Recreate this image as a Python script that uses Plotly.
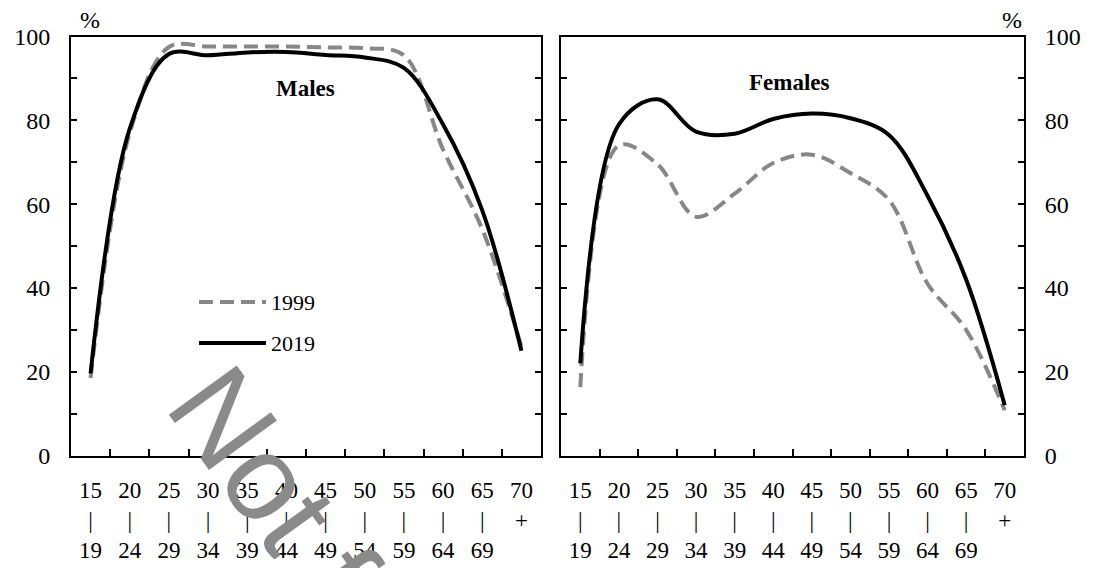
import plotly.graph_objects as go

# ---- data ----
age_groups = ["15-19", "20-24", "25-29", "30-34", "35-39", "40-44", "45-49",
              "50-54", "55-59", "60-64", "65-69", "70+"]
tick_top = ["15", "20", "25", "30", "35", "40", "45", "50", "55", "60", "65", "70"]
tick_mid = ["|", "|", "|", "|", "|", "|", "|", "|", "|", "|", "|", "+"]
tick_bot = ["19", "24", "29", "34", "39", "44", "49", "54", "59", "64", "69", ""]

males_1999 = [18.5, 77.0, 97.5, 97.6, 97.6, 97.6, 97.4, 97.2, 95.5, 73.0, 54.0, 26.0]
males_2019 = [19.6, 78.0, 95.8, 95.5, 96.2, 96.3, 95.6, 95.0, 92.5, 79.0, 58.5, 25.0]
females_1999 = [16.3, 74.0, 69.5, 57.0, 62.5, 69.8, 71.8, 67.4, 61.0, 41.0, 30.0, 10.8]
females_2019 = [22.0, 79.0, 85.0, 77.3, 76.8, 80.3, 81.6, 80.5, 76.5, 62.0, 42.0, 12.0]

y_ticks = [0, 10, 20, 30, 40, 50, 60, 70, 80, 90, 100]
y_ticktext = ["0", "", "20", "", "40", "", "60", "", "80", "", "100"]

# ---- layout constants ----
W, H = 1093, 568
SERIF = "Liberation Serif, Times New Roman, serif"
xpos = list(range(len(age_groups)))
ticktext = [f"{a}<br>{b}<br>{c}" if c else f"{a}<br>{b}" for a, b, c in zip(tick_top, tick_mid, tick_bot)]

def px(x):
    return x / W

def py(y):
    return 1 - y / H

dash_style = "14px,7px"
grey = "#878787"

fig = go.Figure()
fig.add_trace(go.Scatter(x=xpos, y=males_1999, mode="lines", name="1999",
                         line=dict(color=grey, width=4, dash=dash_style, shape="spline", smoothing=1.0),
                         xaxis="x", yaxis="y", showlegend=False))
fig.add_trace(go.Scatter(x=xpos, y=males_2019, mode="lines", name="2019",
                         line=dict(color="black", width=4, shape="spline", smoothing=1.0),
                         xaxis="x", yaxis="y", showlegend=False))
fig.add_trace(go.Scatter(x=xpos, y=females_1999, mode="lines", name="1999",
                         line=dict(color=grey, width=4, dash=dash_style, shape="spline", smoothing=1.0),
                         xaxis="x2", yaxis="y2", showlegend=False))
fig.add_trace(go.Scatter(x=xpos, y=females_2019, mode="lines", name="2019",
                         line=dict(color="black", width=4, shape="spline", smoothing=1.0),
                         xaxis="x2", yaxis="y2", showlegend=False))

xdom1 = [px(71), px(541)]
xdom2 = [px(561), px(1024)]
ydom = [py(455.5), py(36.5)]

def xaxis_cfg(domain, anchor):
    return dict(domain=domain, anchor=anchor, range=[-0.5, 11.5], automargin=False,
                tickmode="array", tickvals=xpos, ticktext=ticktext, ticks="",
                tickfont=dict(family=SERIF, size=23, color="black"),
                ticklabelstandoff=13,
                minor=dict(tickmode="array", tickvals=[i + 0.5 for i in range(11)],
                           ticks="inside", ticklen=7, tickwidth=2, tickcolor="black"),
                showline=True, linecolor="black", linewidth=2, mirror=True,
                showgrid=False, zeroline=False, fixedrange=True)

def yaxis_cfg(anchor, side):
    return dict(domain=ydom, anchor=anchor, side=side, range=[0, 100], automargin=False,
                tickmode="array", tickvals=y_ticks, ticktext=y_ticktext,
                ticks="inside", ticklen=6, tickwidth=2, tickcolor="black",
                tickfont=dict(family=SERIF, size=24, color="black"),
                ticklabelstandoff=14,
                showline=True, linecolor="black", linewidth=2, mirror="ticks",
                showgrid=False, zeroline=False, fixedrange=True)

def note(text, x, y, size, xanchor="center"):
    return dict(text=text, x=px(x), y=py(y), xref="paper", yref="paper", showarrow=False,
                xanchor=xanchor, yanchor="middle",
                font=dict(family=SERIF, size=size, color="black"))

annotations = [
    note("%", 90, 20, 24),
    note("%", 1012, 20, 24),
    note("<b>Males</b>", 305, 88, 23),
    note("<b>Females</b>", 789, 82, 23),
    note("1999", 269, 302, 22, "left"),
    note("2019", 269, 343, 22, "left"),
    # watermark
    dict(text="Not for citation", x=px(428), y=py(700), xref="paper", yref="paper",
         showarrow=False, textangle=54, xanchor="center", yanchor="middle",
         font=dict(family="Liberation Sans, Arial, sans-serif", size=122, color="#8a8a8a")),
]

shapes = [
    dict(type="line", xref="paper", yref="paper", x0=px(199), x1=px(266), y0=py(302), y1=py(302),
         line=dict(color=grey, width=4, dash=dash_style)),
    dict(type="line", xref="paper", yref="paper", x0=px(199), x1=px(266), y0=py(343), y1=py(343),
         line=dict(color="black", width=4)),
]

fig.update_layout(
    width=W, height=H,
    margin=dict(l=0, r=0, t=0, b=0, autoexpand=False),
    paper_bgcolor="white", plot_bgcolor="white",
    xaxis=xaxis_cfg(xdom1, "y"),
    yaxis=yaxis_cfg("x", "left"),
    xaxis2=xaxis_cfg(xdom2, "y2"),
    yaxis2=yaxis_cfg("x2", "right"),
    annotations=annotations,
    shapes=shapes,
    showlegend=False,
)

fig.write_html("out.html")
